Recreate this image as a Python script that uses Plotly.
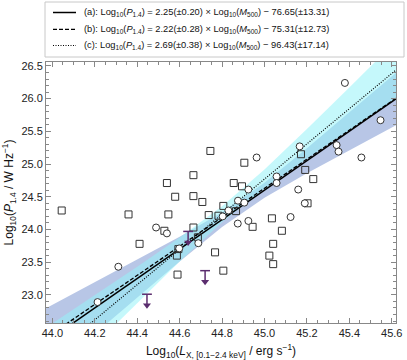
import plotly.graph_objects as go

# ---------------- data ----------------
circ_x = [44.213, 44.311, 44.489, 44.540, 44.598, 44.688, 44.803, 44.830, 44.875, 44.905,
          44.874, 44.924, 44.924, 44.963, 45.057, 45.057, 45.123, 45.159, 45.166, 45.190,
          45.340, 45.349, 45.379, 45.457, 45.547]
circ_y = [22.89, 23.43, 24.03, 23.94, 23.71, 23.79, 24.20, 24.29, 24.44, 24.41,
          24.09, 24.13, 24.61, 25.10, 24.81, 24.71, 24.19, 24.61, 25.27, 24.40,
          25.29, 25.19, 26.24, 25.10, 25.67]

sq_x = [44.044, 44.359, 44.540, 44.579, 44.547, 44.745, 44.905, 44.665, 44.855, 44.894,
        45.172, 44.665, 44.707, 44.806, 44.866, 44.737, 44.783, 45.035, 45.192, 45.230,
        45.203, 45.082, 44.528, 44.665, 44.686, 44.594, 44.587, 44.944, 45.041, 45.023,
        45.041, 44.767, 44.590, 44.806, 44.411]
sq_y = [24.29, 24.23, 24.71, 24.50, 24.23, 25.20, 25.02, 24.83, 24.71, 24.66,
        25.15, 24.51, 24.42, 24.36, 24.28, 24.22, 24.21, 24.17, 24.91, 24.77,
        24.40, 23.98, 23.98, 24.03, 23.88, 23.70, 23.60, 24.04, 23.78, 23.60,
        23.47, 23.65, 23.31, 23.37, 23.78]

# upper limits (x, limit value)
ul_x = [44.446, 44.640, 44.720]
ul_y = [23.01, 23.97, 23.37]

# fit lines (slope, intercept) as drawn
fit_slope = [2.25, 2.22, 2.69]
fit_icpt = [-76.65, -75.27, -96.28]

# confidence bands: half-widths at sample x positions
band_x = [43.97, 44.2, 44.4, 44.6, 44.8, 45.0, 45.2, 45.4, 45.62]
band_a_hw = [0.512, 0.391, 0.288, 0.190, 0.114, 0.114, 0.190, 0.288, 0.401]
band_c_hw = [0.499, 0.377, 0.275, 0.182, 0.123, 0.146, 0.227, 0.325, 0.440]

x_ticks = [44.0, 44.2, 44.4, 44.6, 44.8, 45.0, 45.2, 45.4, 45.6]
y_ticks = [23.0, 23.5, 24.0, 24.5, 25.0, 25.5, 26.0, 26.5]

legend_labels = [
    "(a): Log<sub>10</sub>(<i>P</i><sub>1.4</sub>) = 2.25(±0.20) × Log<sub>10</sub>(<i>M</i><sub>500</sub>) − 76.65(±13.31)",
    "(b): Log<sub>10</sub>(<i>P</i><sub>1.4</sub>) = 2.22(±0.28) × Log<sub>10</sub>(<i>M</i><sub>500</sub>) − 75.31(±12.73)",
    "(c): Log<sub>10</sub>(<i>P</i><sub>1.4</sub>) = 2.69(±0.38) × Log<sub>10</sub>(<i>M</i><sub>500</sub>) − 96.43(±17.14)",
]

X_RANGE = [43.97, 45.62]
Y_RANGE = [22.57, 26.56]
ARROW_LEN = 0.17
FONT = "Liberation Sans, Arial, sans-serif"

W, H = 407, 360
ML, MR, MT, MB = 46, 11, 62, 37
PW, PH = W - ML - MR, H - MT - MB


def px(xs):  # pixel x -> paper fraction
    return (xs - ML) / PW


def py(ys):  # pixel y -> paper fraction
    return (H - MB - ys) / PH


fig = go.Figure()


def band_trace(slope, icpt, hw, fill):
    up = [slope * x + icpt + h for x, h in zip(band_x, hw)]
    lo = [slope * x + icpt - h for x, h in zip(band_x, hw)]
    return go.Scatter(x=band_x + band_x[::-1], y=up + lo[::-1], fill="toself",
                      fillcolor=fill, line=dict(width=0), mode="lines",
                      showlegend=False, hoverinfo="skip")


fig.add_trace(band_trace(fit_slope[0], fit_icpt[0], band_a_hw, "rgb(184,198,230)"))
fig.add_trace(band_trace(fit_slope[2], fit_icpt[2], band_c_hw, "rgba(150,242,248,0.55)"))

dashes = ["solid", "4px,2px", "1px,1.5px"]
widths = [1.5, 1.3, 1.2]
for i in range(3):
    xs = X_RANGE
    ys = [fit_slope[i] * x + fit_icpt[i] for x in xs]
    fig.add_trace(go.Scatter(x=xs, y=ys, mode="lines", showlegend=False,
                             line=dict(color="black", width=widths[i], dash=dashes[i])))

fig.add_trace(go.Scatter(x=sq_x, y=sq_y, mode="markers", showlegend=False,
                         marker=dict(symbol="square-open", size=7, color="#333",
                                     line=dict(width=1, color="#333"))))
fig.add_trace(go.Scatter(x=circ_x, y=circ_y, mode="markers", showlegend=False,
                         marker=dict(symbol="circle", size=7, color="white",
                                     line=dict(width=1, color="#333"))))

# upper limits: cap + stick + arrowhead
purple = "#5b2d6e"
fig.add_trace(go.Scatter(x=ul_x, y=ul_y, mode="markers", showlegend=False,
                         marker=dict(symbol="line-ew", size=7, line=dict(width=1.5, color=purple)),
                         error_y=dict(type="data", symmetric=False, array=[0] * len(ul_y),
                                      arrayminus=[ARROW_LEN] * len(ul_y), width=0,
                                      color=purple, thickness=1.5)))
fig.add_trace(go.Scatter(x=ul_x, y=[v - ARROW_LEN for v in ul_y], mode="markers", showlegend=False,
                         marker=dict(symbol="triangle-down", size=7, color=purple)))

# ---------- manual legend (box, line samples, texts) ----------
shapes = [dict(type="rect", xref="paper", yref="paper", x0=px(45), x1=px(404), y0=py(57), y1=py(2),
               line=dict(color="#c8c8c8", width=1), fillcolor="white", layer="above")]
row_y = [12.5, 29.3, 45.5]
leg_dash = ["solid", "4px,2px", "1px,1.5px"]
for i in range(3):
    shapes.append(dict(type="line", xref="paper", yref="paper", x0=px(53), x1=px(76),
                       y0=py(row_y[i]), y1=py(row_y[i]),
                       line=dict(color="black", width=widths[i], dash=leg_dash[i]), layer="above"))
annotations = []
for i in range(3):
    annotations.append(dict(xref="paper", yref="paper", x=px(82), y=py(row_y[i]),
                            xanchor="left", yanchor="middle", showarrow=False,
                            text=legend_labels[i],
                            font=dict(family=FONT, size=9.3, color="#111")))

axis_common = dict(showline=True, mirror="ticks", linecolor="#888", linewidth=1,
                   ticks="inside", ticklen=5, tickcolor="#888", tickwidth=1,
                   showgrid=False, zeroline=False, automargin=False,
                   tickfont=dict(family=FONT, size=11, color="#222"))

fig.update_xaxes(range=X_RANGE, tickvals=x_ticks, ticktext=[f"{v:.1f}" for v in x_ticks],
                 minor=dict(tick0=44.0, dtick=0.05, ticks="inside", ticklen=3, tickcolor="#888"),
                 title=dict(text="Log<sub>10</sub>(<i>L</i><sub>X, [0.1−2.4 keV]</sub> / erg s<sup>−1</sup>)",
                            font=dict(family=FONT, size=12, color="#111")),
                 **axis_common)
fig.update_yaxes(range=Y_RANGE, tickvals=y_ticks, ticktext=[f"{v:.1f}" for v in y_ticks],
                 minor=dict(tick0=23.0, dtick=0.1, ticks="inside", ticklen=3, tickcolor="#888"),
                 title=dict(text="Log<sub>10</sub>(<i>P</i><sub>1.4</sub> / W Hz<sup>−1</sup>)",
                            font=dict(family=FONT, size=12, color="#111")),
                 **axis_common)

fig.update_layout(
    width=W, height=H,
    margin=dict(l=ML, r=MR, t=MT, b=MB),
    paper_bgcolor="white", plot_bgcolor="white",
    font=dict(family=FONT, size=11, color="#111"),
    showlegend=False,
    shapes=shapes, annotations=annotations,
)

# remove the browser's default 8px body margin so the figure starts at the page corner
fig.write_html("out.html", config={"displayModeBar": False},
               post_script="document.body.style.margin='0';")
